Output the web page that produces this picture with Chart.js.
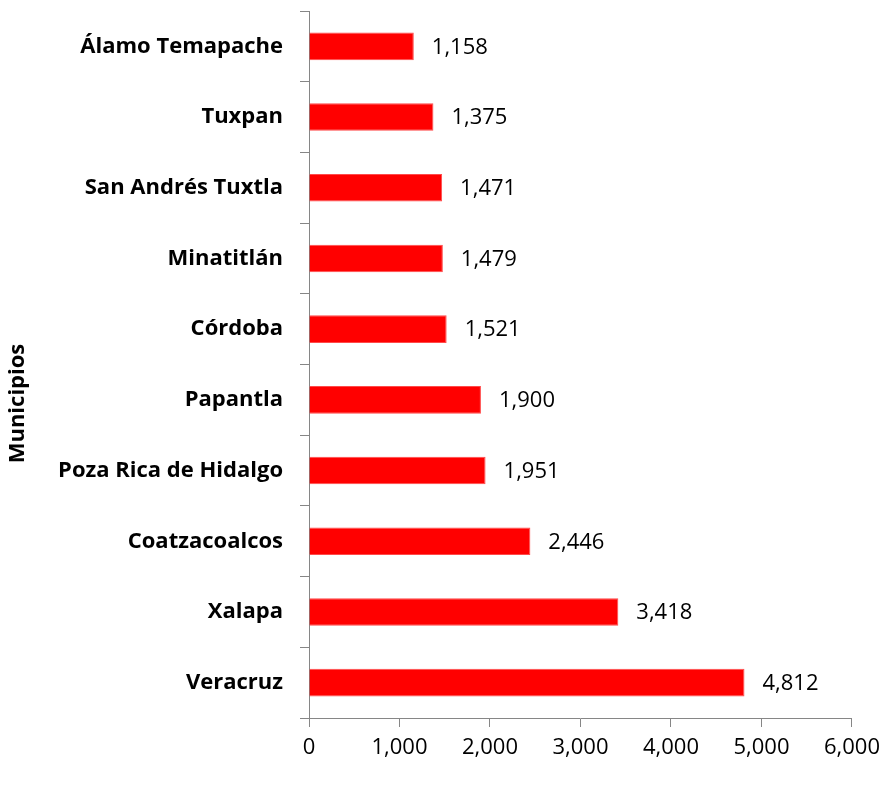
<!DOCTYPE html>
<html>
<head>
<meta charset="utf-8">
<script src="https://cdn.jsdelivr.net/npm/chart.js@4"></script>
<style>
  html, body { margin: 0; padding: 0; background: #fff; }
  #wrap { width: 888px; height: 794px; }
</style>
</head>
<body>
<div id="wrap"><canvas id="bar-chart"></canvas></div>
<script>
const municipios = ['Álamo Temapache', 'Tuxpan', 'San Andrés Tuxtla', 'Minatitlán', 'Córdoba',
  'Papantla', 'Poza Rica de Hidalgo', 'Coatzacoalcos', 'Xalapa', 'Veracruz'];
const valores = [1158, 1375, 1471, 1479, 1521, 1900, 1951, 2446, 3418, 4812];
const xTicks = [0, 1000, 2000, 3000, 4000, 5000, 6000];
const tituloY = 'Municipios';

const fmt = v => v.toLocaleString('en-US');
const FONT = '"Open Sans", Lato, sans-serif';

// value labels to the right of each bar + the y axis title (sits a bit below center)
const valueLabels = {
  id: 'valueLabels',
  afterDatasetsDraw(chart) {
    const ctx = chart.ctx;
    const meta = chart.getDatasetMeta(0);
    ctx.save();
    ctx.font = '22px ' + FONT;
    ctx.fillStyle = '#000';
    ctx.textAlign = 'left';
    ctx.textBaseline = 'middle';
    meta.data.forEach((bar, i) => {
      ctx.fillText(fmt(valores[i]), bar.x + 18, bar.y + 1);
    });

    const area = chart.chartArea;
    ctx.translate(18, (area.top + area.bottom) / 2 + 39);
    ctx.rotate(-Math.PI / 2);
    ctx.font = 'bold 22px ' + FONT;
    ctx.textAlign = 'center';
    ctx.fillText(tituloY, 0, 0);
    ctx.restore();
  }
};

new Chart(document.getElementById('bar-chart'), {
  type: 'bar',
  data: {
    labels: municipios,
    datasets: [{
      data: valores,
      backgroundColor: '#ff0000',
      borderColor: '#ff4a4a',
      borderWidth: 1,
      barPercentage: 0.39,
      categoryPercentage: 1
    }]
  },
  plugins: [valueLabels],
  options: {
    indexAxis: 'y',
    responsive: true,
    maintainAspectRatio: false,
    animation: false,
    layout: { padding: { top: 11, right: 33, left: 0, bottom: 0 } },
    plugins: {
      legend: { display: false },
      tooltip: { enabled: false }
    },
    scales: {
      x: {
        min: 0,
        max: 6000,
        afterBuildTicks: axis => { axis.ticks = xTicks.map(v => ({ value: v })); },
        afterFit: axis => { axis.height = 76; },
        grid: { drawOnChartArea: false, drawTicks: true, tickLength: 9, color: '#868686' },
        border: { color: '#868686', width: 1 },
        ticks: {
          color: '#000',
          padding: 8,
          maxRotation: 0,
          font: { family: FONT, size: 22 },
          callback: v => fmt(v)
        }
      },
      y: {
        afterFit: axis => {
          axis.width = 309;
          axis.paddingTop = 0;
          axis.paddingBottom = 0;
        },
        grid: { drawOnChartArea: false, drawTicks: true, tickLength: 9, color: '#868686', offset: true },
        border: { color: '#868686', width: 1 },
        ticks: {
          color: '#000',
          padding: 17,
          font: { family: FONT, size: 22, weight: 'bold' }
        }
      }
    }
  }
});
</script>
</body>
</html>
